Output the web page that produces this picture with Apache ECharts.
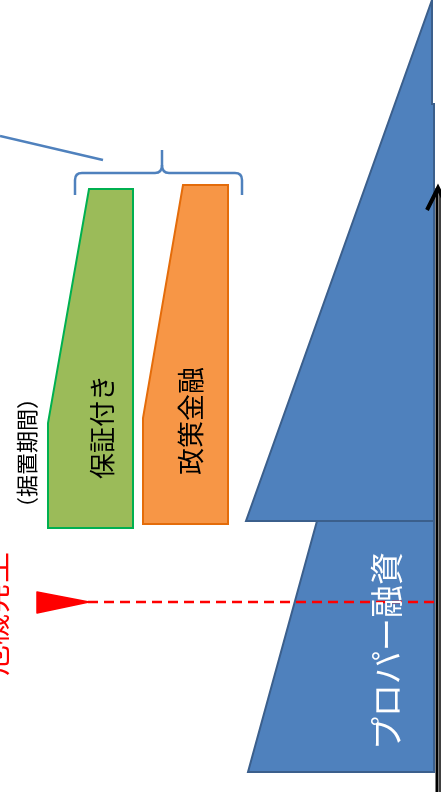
<!DOCTYPE html>
<html>
<head>
<meta charset="utf-8">
<script src="https://cdn.jsdelivr.net/npm/echarts@6/dist/echarts.min.js"></script>
<style>
html, body { margin: 0; padding: 0; background: #fff; }
#chart { width: 441px; height: 792px; }
</style>
</head>
<body>
<div id="chart"></div>
<script>
// amount = distance to the left of the time arrow, time = upward from the bottom of the loan
var properBefore = [[120, 251], [3, 251], [3, 0], [189, 0]];
var properAfter = [[5, 772], [5, 668], [3, 668], [3, 251], [191, 251]];
var guarantee = [[348, 583], [304, 583], [304, 244], [389, 244], [389, 349]];
var policy = [[254, 587], [209, 587], [209, 248], [294, 248], [294, 354]];
var crisisLine = [[349, 170], [2, 170]];
var timeArrow = [[0, -20], [0, 584]];

var chart = echarts.init(document.getElementById('chart'));

function shapeSeries(pts, fill, stroke, z) {
    return {
        type: 'custom',
        coordinateSystem: 'cartesian2d',
        silent: true,
        z: z,
        data: [[0, 0]],
        renderItem: function (params, api) {
            return {
                type: 'polygon',
                shape: { points: pts.map(function (p) { return api.coord(p); }) },
                style: { fill: fill, stroke: stroke, lineWidth: 2 }
            };
        }
    };
}

var jp = '"Noto Sans CJK JP", sans-serif';

function vtext(str, x, y, size, color) {
    return {
        type: 'text', x: x, y: y, rotation: Math.PI / 2, z: 100,
        style: {
            text: str, fill: color, font: size + 'px ' + jp,
            align: 'center', verticalAlign: 'middle'
        }
    };
}

var braceStyle = { stroke: '#4F81BD', lineWidth: 2.5, fill: null };
function seg(x1, y1, x2, y2) {
    return { type: 'line', shape: { x1: x1, y1: y1, x2: x2, y2: y2 }, style: braceStyle };
}
function curve(x1, y1, cx, cy, x2, y2) {
    return { type: 'bezierCurve', shape: { x1: x1, y1: y1, cpx1: cx, cpy1: cy, x2: x2, y2: y2 }, style: braceStyle };
}

chart.setOption({
    animation: false,
    grid: { left: 0, right: 0, top: 0, bottom: 0 },
    xAxis: { type: 'value', min: -4, max: 437, inverse: true, show: false },
    yAxis: { type: 'value', min: -20, max: 772, show: false },
    graphic: [
        seg(0, 136, 103, 160),
        seg(75, 195, 75, 180),
        curve(75, 180, 75, 173, 82, 173),
        seg(82, 173, 155, 173),
        curve(155, 173, 162, 173, 162, 165),
        seg(162, 165, 162, 150),
        curve(162, 165, 162, 173, 169, 173),
        seg(169, 173, 235, 173),
        curve(235, 173, 242, 173, 242, 180),
        seg(242, 180, 242, 195),
        vtext('保証付き', 102, 427, 26, '#000'),
        vtext('政策金融', 191, 421, 27, '#000'),
        vtext('（据置期間）', 27, 453, 22, '#000'),
        vtext('プロパー融資', 386, 651, 33, '#fff'),
        vtext('危機発生', -6, 614, 31, '#FF0000')
    ],
    series: [
        shapeSeries(properAfter, '#4F81BD', '#3B5F8C', 1),
        shapeSeries(properBefore, '#4F81BD', '#3B5F8C', 2),
        shapeSeries(guarantee, '#9BBB59', '#00B050', 3),
        shapeSeries(policy, '#F79646', '#E46C0A', 3),
        {
            type: 'custom', coordinateSystem: 'cartesian2d', silent: true, z: 5,
            data: [[0, 0]],
            renderItem: function (params, api) {
                var a = api.coord(crisisLine[0]), b = api.coord(crisisLine[1]);
                return {
                    type: 'group',
                    children: [
                        { type: 'line', shape: { x1: a[0], y1: a[1], x2: b[0], y2: b[1] },
                          style: { stroke: '#FF0000', lineWidth: 2.5, lineDash: [10, 6] } },
                        { type: 'polygon', shape: { points: [[a[0] + 1, a[1]], [a[0] - 51, a[1] - 10], [a[0] - 51, a[1] + 11]] },
                          style: { fill: '#FF0000', stroke: '#FF0000', lineWidth: 1.5, lineJoin: 'round' } }
                    ]
                };
            }
        },
        {
            type: 'custom', coordinateSystem: 'cartesian2d', silent: true, z: 6,
            data: [[0, 0]],
            renderItem: function (params, api) {
                var a = api.coord(timeArrow[0]), b = api.coord(timeArrow[1]);
                return {
                    type: 'group',
                    children: [
                        { type: 'line', shape: { x1: a[0], y1: a[1], x2: b[0], y2: b[1] },
                          style: { stroke: '#000', lineWidth: 3 } },
                        { type: 'line', shape: { x1: a[0] + 3, y1: a[1], x2: b[0] + 3, y2: b[1] + 6 },
                          style: { stroke: '#000', lineWidth: 1.5 } },
                        { type: 'polyline', shape: { points: [[b[0] - 10, b[1] + 22], [b[0] + 1, b[1]], [b[0] + 12, b[1] + 22]] },
                          style: { stroke: '#000', lineWidth: 4, fill: null } }
                    ]
                };
            }
        }
    ]
});
</script>
</body>
</html>
